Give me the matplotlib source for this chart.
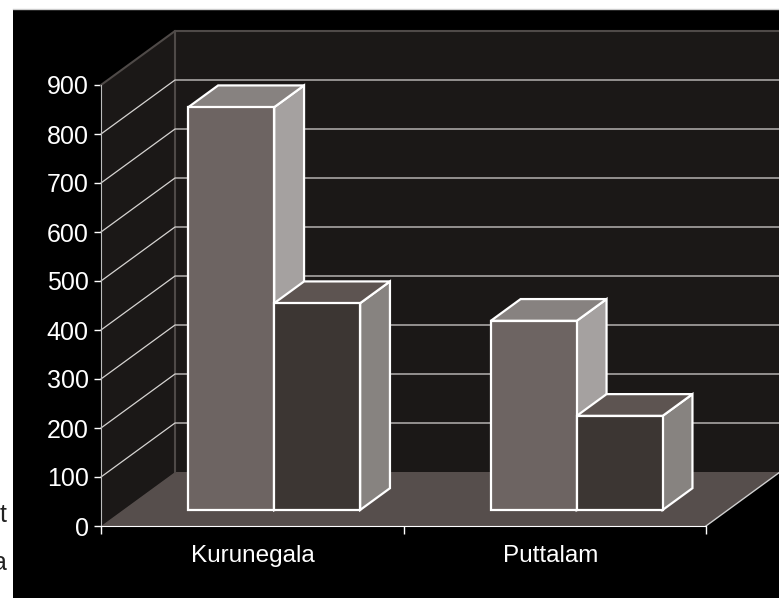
import matplotlib
matplotlib.use('Agg')
import matplotlib.pyplot as plt
from matplotlib.patches import Polygon, Rectangle

categories = ['Kurunegala', 'Puttalam']
series1 = [822, 386]
series2 = [422, 192]
yticks = [0, 100, 200, 300, 400, 500, 600, 700, 800, 900]

plt.rcParams['font.family'] = ['Liberation Sans', 'DejaVu Sans']

# pixel scale of the axis
px_x = 302.5
px_y = 0.49
depth_x = 74 / px_x
depth_y = 54 / px_y


def proj(x, y, d):
    # shift a point backwards into the fake 3d depth
    return (x + d * depth_x, y + d * depth_y)


def bar3d(ax, x0, x1, h, d0, d1, front, side, top):
    a = [proj(x0, 0, d0), proj(x1, 0, d0), proj(x1, h, d0), proj(x0, h, d0)]
    b = [proj(x1, 0, d0), proj(x1, 0, d1), proj(x1, h, d1), proj(x1, h, d0)]
    c = [proj(x0, h, d0), proj(x1, h, d0), proj(x1, h, d1), proj(x0, h, d1)]
    for pts, col in [(b, side), (c, top), (a, front)]:
        ax.add_patch(Polygon(pts, closed=True, fc=col, ec='white', lw=1.6, joinstyle='miter', zorder=5))


fig = plt.figure(figsize=(7.79, 5.98), dpi=100, facecolor='white')
ax = fig.add_axes([0, 0, 1, 1])
ax.set_xlim(-101 / px_x, (779 - 101) / px_x)
ax.set_ylim((526 - 598) / px_y, 526 / px_y)
ax.patch.set_visible(False)

# black panel, the chart sits on it
panel = Rectangle((13 / 779, 0), 1, 1 - 9 / 598, transform=ax.transAxes, fc='black', ec='none', zorder=0)
ax.add_patch(panel)
ax.plot([13 / 779, 1], [1 - 8.5 / 598, 1 - 8.5 / 598], transform=ax.transAxes, color='#cccccc', lw=1, zorder=0)

# walls and floor
top = yticks[-1]
wall_col = '#1b1817'
line_col = '#4f4a48'
ax.add_patch(Polygon([proj(0, 0, 0), proj(0, top, 0), proj(0, top, 1), proj(0, 0, 1)], fc=wall_col, ec='none', zorder=1))
ax.add_patch(Polygon([proj(0, 0, 1), proj(0, top, 1), proj(2, top, 1), proj(2, 0, 1)], fc=wall_col, ec='none', zorder=1))
ax.add_patch(Polygon([proj(0, 0, 0), proj(2, 0, 0), proj(2, 0, 1), proj(0, 0, 1)], fc='#564e4c', ec='none', zorder=1))
ax.plot(*zip(proj(0, top, 0), proj(0, top, 1), proj(2, top, 1)), color=line_col, lw=1.5, zorder=2)
ax.plot(*zip(proj(0, 0, 1), proj(0, top, 1)), color=line_col, lw=1.5, zorder=2)
ax.plot(*zip(proj(2, 0, 0), proj(2, 0, 1)), color='#d0d0d0', lw=1, zorder=2)

for v in yticks[1:-1]:
    ax.plot(*zip(proj(0, v, 0), proj(0, v, 1), proj(2, v, 1)), color='#d6d4d2', lw=0.9, zorder=3)

# bars
w = 0.284
d0 = 0.297
d1 = 0.70
for i in range(len(categories)):
    bar3d(ax, i + 0.5 - w, i + 0.5, series1[i], d0, d1, '#6d6462', '#a5a1a0', '#878280')
    bar3d(ax, i + 0.5, i + 0.5 + w, series2[i], d0, d1, '#3c3633', '#878380', '#5d5451')

# axes
for s in ['top', 'right']:
    ax.spines[s].set_visible(False)
ax.spines['left'].set_position(('data', 0))
ax.spines['bottom'].set_position(('data', 0))
ax.spines['left'].set_bounds(0, top)
ax.spines['bottom'].set_bounds(0, 2)
ax.spines['left'].set_color('#bdbdbd')
ax.spines['bottom'].set_color('white')
ax.spines['left'].set_zorder(4)
ax.spines['bottom'].set_zorder(4)
ax.set_yticks(yticks)
ax.set_xticks([0, 1, 2])
ax.set_xticklabels([])
ax.tick_params(axis='y', colors='white', labelsize=18, length=5, width=1, pad=4)
ax.tick_params(axis='x', colors='white', length=6, width=1)

ax.text(0.503, -62, categories[0], color='white', fontsize=17.5, ha='center', va='center', zorder=6)
ax.text(1.487, -62, categories[1], color='white', fontsize=17.5, ha='center', va='center', zorder=6)

# cut off text left of the panel
ax.text(7 / 779, 1 - 515 / 598, 't', transform=ax.transAxes, color='#222222', fontsize=18, ha='right', va='center')
ax.text(7 / 779, 1 - 563 / 598, 'a', transform=ax.transAxes, color='#222222', fontsize=18, ha='right', va='center')

fig.savefig('out.png', dpi=100, facecolor='white')
